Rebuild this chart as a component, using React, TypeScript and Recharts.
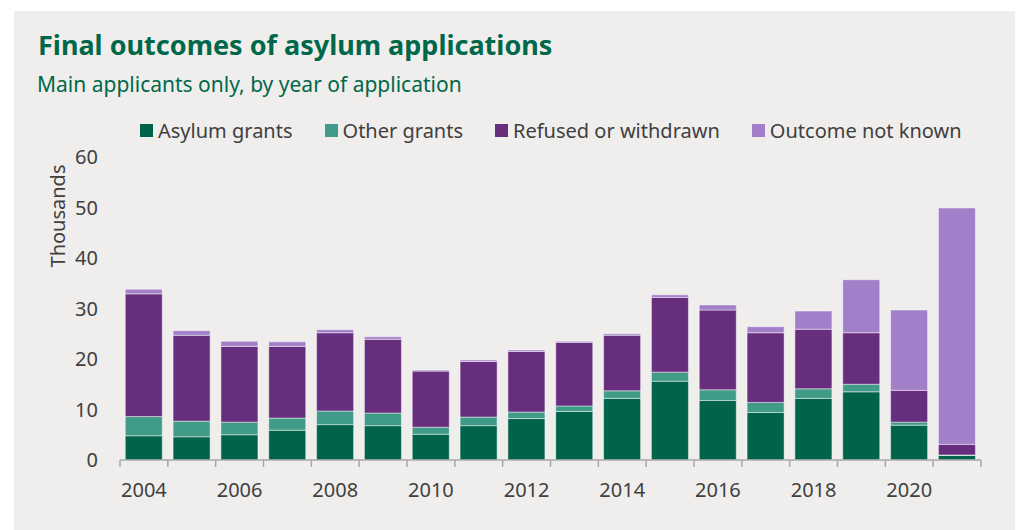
import { BarChart, Bar, XAxis, YAxis } from 'recharts'

const years = [
  '2004', '2005', '2006', '2007', '2008', '2009', '2010', '2011', '2012',
  '2013', '2014', '2015', '2016', '2017', '2018', '2019', '2020', '2021',
]
// thousands of main applicants
const asylumGrants = [4.8, 4.6, 5.0, 5.9, 7.0, 6.8, 5.1, 6.8, 8.2, 9.6, 12.2, 15.6, 11.8, 9.4, 12.2, 13.5, 6.9, 0.9]
const otherGrants = [3.8, 3.1, 2.5, 2.4, 2.7, 2.5, 1.4, 1.7, 1.3, 1.1, 1.5, 1.8, 2.1, 2.0, 1.9, 1.5, 0.6, 0.1]
const refused = [24.3, 17.0, 15.0, 14.2, 15.5, 14.6, 11.1, 11.0, 12.0, 12.6, 11.0, 14.8, 15.8, 13.8, 11.8, 10.2, 6.3, 2.1]
const notKnown = [0.9, 0.9, 1.0, 0.9, 0.6, 0.5, 0.2, 0.3, 0.3, 0.2, 0.3, 0.5, 1.0, 1.2, 3.6, 10.5, 15.9, 46.8]
const yTicks = [0, 10, 20, 30, 40, 50, 60]

const series = [
  { key: 'asylum', name: 'Asylum grants', color: '#00634A' },
  { key: 'other', name: 'Other grants', color: '#419B89' },
  { key: 'refused', name: 'Refused or withdrawn', color: '#682E7E' },
  { key: 'unknown', name: 'Outcome not known', color: '#A27FC9' },
]

const data = years.map((year, i) => ({
  year,
  asylum: asylumGrants[i],
  other: otherGrants[i],
  refused: refused[i],
  unknown: notKnown[i],
}))

const FONT = '"Noto Sans", "Open Sans", sans-serif'
const TEXT = '#404040'
const GREEN = '#00684A'
const AXIS = '#A8A8A8'

function YearTick(props: any) {
  const { x, y, payload, index } = props
  const half = payload.offset ?? 0
  const last = index === years.length - 1
  return (
    <g>
      <line x1={x - half} x2={x - half} y1={y} y2={y + 7} stroke={AXIS} strokeWidth={1.5} />
      {last && <line x1={x + half} x2={x + half} y1={y} y2={y + 7} stroke={AXIS} strokeWidth={1.5} />}
      {index % 2 === 0 && (
        <text x={x} y={y + 37} textAnchor="middle" fill={TEXT} fontSize={20} fontFamily={FONT}>
          {payload.value}
        </text>
      )}
    </g>
  )
}

export default function App() {
  return (
    <div style={{ position: 'absolute', left: 0, top: 0, width: 1018, height: 530, background: '#fff', overflow: 'hidden', fontFamily: FONT }}>
      <div style={{ position: 'absolute', left: 14, top: 11, width: 1001, height: 530, background: '#EFEEEC' }} />

      <div style={{ position: 'absolute', left: 38, top: 26, fontSize: 27, fontWeight: 700, color: GREEN, whiteSpace: 'nowrap' }}>
        Final outcomes of asylum applications
      </div>
      <div style={{ position: 'absolute', left: 37, top: 70, fontSize: 21, color: GREEN, whiteSpace: 'nowrap' }}>
        Main applicants only, by year of application
      </div>

      <div style={{ position: 'absolute', left: 140, top: 117, display: 'flex', gap: 32, fontSize: 20, color: TEXT, whiteSpace: 'nowrap' }}>
        {series.map((s) => (
          <div key={s.key} style={{ display: 'flex', alignItems: 'center' }}>
            <span style={{ width: 13, height: 13, background: s.color, marginRight: 5, display: 'inline-block' }} />
            {s.name}
          </div>
        ))}
      </div>

      <div style={{ position: 'absolute', left: 57, top: 216, transform: 'translate(-50%, -50%) rotate(-90deg)', fontSize: 20, color: TEXT, whiteSpace: 'nowrap' }}>
        Thousands
      </div>

      <div style={{ position: 'absolute', left: 0, top: 0 }}>
        <BarChart
          width={1018}
          height={530}
          data={data}
          barCategoryGap="11%"
          margin={{ top: 157, right: 37, left: 0, bottom: 30 }}
        >
          <XAxis
            dataKey="year"
            height={40}
            interval={0}
            tickSize={0}
            tickMargin={0}
            tickLine={false}
            axisLine={{ stroke: AXIS, strokeWidth: 1.5 }}
            tick={<YearTick />}
          />
          <YAxis
            width={120}
            domain={[0, 60]}
            ticks={yTicks}
            axisLine={false}
            tickLine={false}
            tickMargin={16}
            tick={{ fontSize: 20, fill: TEXT, fontFamily: FONT }}
          />
          {series.map((s) => (
            <Bar
              key={s.key}
              dataKey={s.key}
              name={s.name}
              stackId="a"
              fill={s.color}
              stroke="rgba(255,255,255,0.45)"
              strokeWidth={1}
              isAnimationActive={false}
            />
          ))}
        </BarChart>
      </div>
    </div>
  )
}
